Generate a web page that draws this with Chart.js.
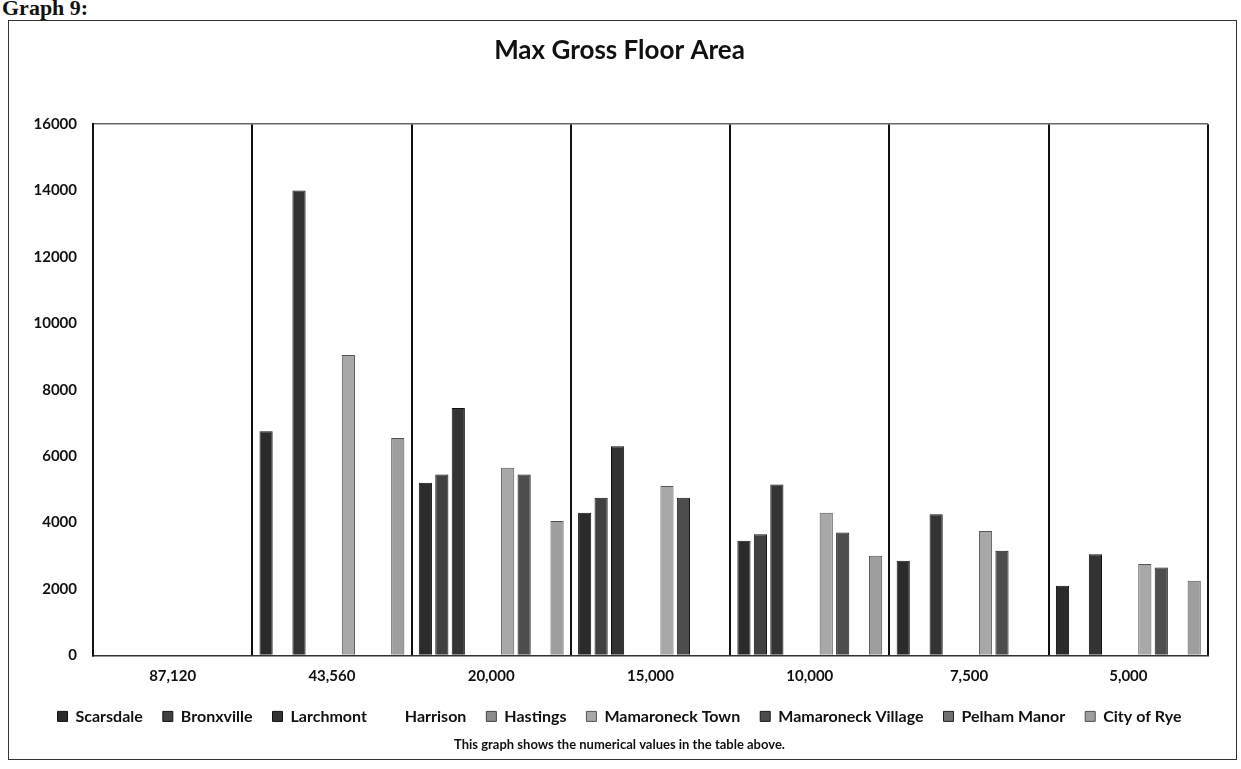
<!DOCTYPE html>
<html>
<head>
<meta charset="utf-8">
<script src="https://cdn.jsdelivr.net/npm/chart.js@4"></script>
<style>
  html, body { margin: 0; padding: 0; background: #fff; }
  body { width: 1241px; height: 769px; position: relative; overflow: hidden; }
  #heading {
    position: absolute; left: 2px; top: -3px;
    font: bold 22px/22px "Liberation Serif", serif; color: #111;
  }
  #frame {
    position: absolute; left: 8px; top: 20px; width: 1229px; height: 740px;
    border: 1.5px solid #333; box-sizing: border-box;
  }
  #wrap { position: absolute; left: 10px; top: 22px; width: 1226px; height: 738px; }
</style>
</head>
<body>
<div id="heading">Graph 9:</div>
<div id="frame"></div>
<div id="wrap"><canvas id="chart"></canvas></div>
<script>
// lot sizes (sq ft) along the x axis
const lotSizes = ['87,120', '43,560', '20,000', '15,000', '10,000', '7,500', '5,000'];

// max gross floor area per municipality
const scarsdale   = [null, 6750, 5200, 4300, 3450, 2850, 2100];
const bronxville  = [null, null, 5450, 4750, 3650, null, null];
const larchmont   = [null, 14000, 7450, 6300, 5150, 4250, 3050];
const harrison    = [null, null, null, null, null, null, null];
const hastings    = [null, null, null, null, null, null, null];
const mamTown     = [null, 9050, 5650, 5100, 4300, 3750, 2750];
const mamVillage  = [null, null, 5450, 4750, 3700, 3150, 2650];
const pelhamManor = [null, null, null, null, null, null, null];
const cityOfRye   = [null, 6550, 4050, null, 3000, null, 2250];

const yTicks = [0, 2000, 4000, 6000, 8000, 10000, 12000, 14000, 16000];

function series(label, data, fill, edge) {
    return {
        label: label,
        data: data,
        backgroundColor: fill,
        borderColor: edge,
        borderWidth: 1
    };
}

const FONT = 'Lato, "Open Sans", sans-serif';

// legend: keep it on one row and close under the axis labels
const LEGEND_EXTRA_WIDTH = 80;
const LEGEND_TRIM = 11;
const LEGEND_LIFT = 9;
const legendSpacing = {
    id: 'legendSpacing',
    afterInit(chart) {
        const legend = chart.legend;
        const fit = legend.fit;
        legend.fit = function () {
            this.maxWidth += LEGEND_EXTRA_WIDTH;
            fit.call(this);
            this.height -= LEGEND_TRIM;
        };
    },
    afterLayout(chart) {
        const legend = chart.legend;
        legend.top -= LEGEND_LIFT;
        legend.left -= 30;
        legend.right += 30;
    }
};

new Chart(document.getElementById('chart').getContext('2d'), {
    type: 'bar',
    data: {
        labels: lotSizes,
        datasets: [
            series('Scarsdale', scarsdale, '#2b2b2b', '#111'),
            series('Bronxville', bronxville, '#404040', '#151515'),
            series('Larchmont', larchmont, '#333333', '#111'),
            series('Harrison', harrison, 'rgba(0,0,0,0)', 'rgba(0,0,0,0)'),
            series('Hastings', hastings, '#8c8c8c', '#444'),
            series('Mamaroneck Town', mamTown, '#a8a8a8', '#555'),
            series('Mamaroneck Village', mamVillage, '#4d4d4d', '#1a1a1a'),
            series('Pelham Manor', pelhamManor, '#707070', '#222'),
            series('City of Rye', cityOfRye, '#9e9e9e', '#505050')
        ]
    },
    plugins: [legendSpacing],
    options: {
        responsive: true,
        maintainAspectRatio: false,
        animation: false,
        layout: { padding: { left: 21, right: 28, top: 0, bottom: 0 } },
        datasets: {
            bar: { categoryPercentage: 0.93, barPercentage: 0.8 }
        },
        scales: {
            x: {
                grid: {
                    offset: true,
                    color: '#111',
                    lineWidth: 2,
                    drawTicks: false
                },
                border: { display: true, color: '#333', width: 1.5 },
                ticks: {
                    color: '#111',
                    padding: 12,
                    font: { family: FONT, size: 15, weight: 'bold' }
                }
            },
            y: {
                min: 0,
                max: 16000,
                afterBuildTicks: axis => {
                    axis.ticks = yTicks.map(v => ({ value: v }));
                },
                afterFit: axis => { axis.width = 62; },
                grid: {
                    color: c => (c.tick && c.tick.value === 16000) ? '#666' : 'rgba(0,0,0,0)',
                    lineWidth: 1.5,
                    drawTicks: false
                },
                border: { display: true, color: '#111', width: 2 },
                ticks: {
                    color: '#111',
                    padding: 16,
                    callback: v => String(v),
                    font: { family: FONT, size: 15, weight: 'bold' }
                }
            }
        },
        plugins: {
            title: {
                display: true,
                text: 'Max Gross Floor Area',
                color: '#111',
                font: { family: FONT, size: 26, weight: 'bold' },
                padding: { top: 13, bottom: 58 }
            },
            subtitle: {
                display: true,
                position: 'bottom',
                text: 'This graph shows the numerical values in the table above.',
                color: '#111',
                font: { family: FONT, size: 13, weight: 'bold' },
                padding: { top: 5, bottom: 7 }
            },
            legend: {
                position: 'bottom',
                labels: {
                    color: '#111',
                    boxWidth: 10,
                    boxHeight: 10,
                    padding: 20,
                    font: { family: FONT, size: 16, weight: 'bold' }
                }
            },
            tooltip: { enabled: false }
        }
    }
});
</script>
</body>
</html>
